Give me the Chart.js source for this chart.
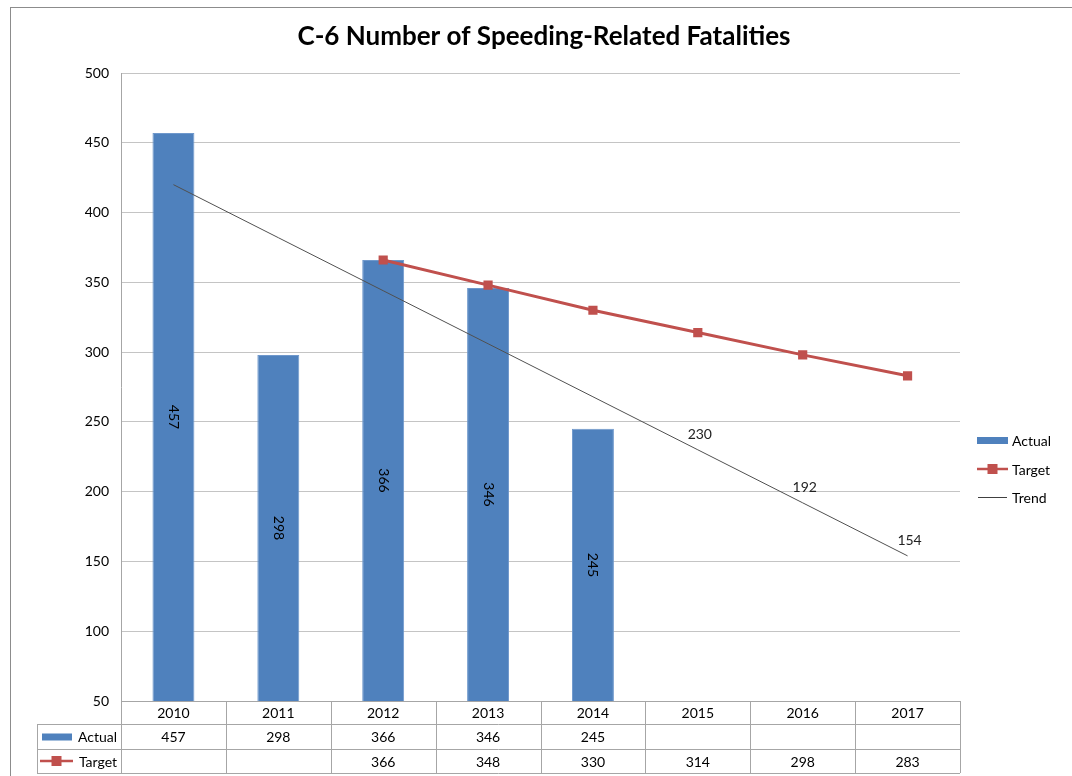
<!DOCTYPE html>
<html>
<head>
<meta charset="utf-8">
<script src="https://cdn.jsdelivr.net/npm/chart.js@4"></script>
<style>
  html, body { margin: 0; padding: 0; background: #fff; }
  #wrap { width: 1072px; height: 776px; }
</style>
</head>
<body>
<div id="wrap"><canvas id="c6Chart" width="1072" height="776"></canvas></div>
<script>
// data
var years = ['2010', '2011', '2012', '2013', '2014', '2015', '2016', '2017'];
var actual = [457, 298, 366, 346, 245, null, null, null];
var target = [null, null, 366, 348, 330, 314, 298, 283];
var trend = [420, 382, 344, 306, 268, 230, 192, 154];
var trendLabelIdx = [5, 6, 7];
var yTicks = [50, 100, 150, 200, 250, 300, 350, 400, 450, 500];

var FONT = 'Lato, "Open Sans", sans-serif';
var BLUE = '#4f81bd';
var RED = '#c0504d';
var GRID = '#c4c4c4';

function fmt(v) { return v == null ? '' : String(v); }

// title, data table, legend, frame, bar + trend labels
var extras = {
  id: 'extras',
  afterDatasetsDraw: function (chart) {
    var ctx = chart.ctx;
    var area = chart.chartArea;

    ctx.save();
    // labels inside the bars, rotated
    var barMeta = chart.getDatasetMeta(0);
    ctx.fillStyle = '#000';
    ctx.font = '14px ' + FONT;
    ctx.textAlign = 'center';
    ctx.textBaseline = 'middle';
    barMeta.data.forEach(function (el, i) {
      if (actual[i] == null) return;
      ctx.save();
      ctx.translate(el.x, (el.y + area.bottom) / 2);
      ctx.rotate(Math.PI / 2);
      ctx.fillText(fmt(actual[i]), 0, 0);
      ctx.restore();
    });

    // trend labels
    var trendMeta = chart.getDatasetMeta(2);
    ctx.fillStyle = '#222';
    trendLabelIdx.forEach(function (i) {
      var p = trendMeta.data[i];
      ctx.fillText(fmt(trend[i]), p.x + 2, p.y - 15);
    });
    ctx.restore();
  },
  afterDraw: function (chart) {
    var ctx = chart.ctx;
    var area = chart.chartArea;
    var xs = chart.scales.x;
    var n = years.length;
    var step = (area.right - area.left) / n;

    ctx.save();
    // outer frame
    ctx.strokeStyle = '#8c8c8c';
    ctx.lineWidth = 1;
    ctx.strokeRect(10.5, 7.5, 1080, 800);

    // title
    ctx.fillStyle = '#000';
    ctx.font = 'bold 26px ' + FONT;
    ctx.textAlign = 'center';
    ctx.textBaseline = 'middle';
    ctx.fillText('C-6 Number of Speeding-Related Fatalities', 544, 37);

    // data table
    var rowTop = area.bottom;
    var rowH = [23, 25, 24];
    var tableLeft = 37;
    ctx.strokeStyle = '#a6a6a6';
    ctx.beginPath();
    var y0 = rowTop, y1 = rowTop + rowH[0], y2 = y1 + rowH[1], y3 = y2 + rowH[2];
    // horizontals
    ctx.moveTo(area.left, y0 + 0.5); ctx.lineTo(area.right, y0 + 0.5);
    ctx.moveTo(tableLeft, y1 + 0.5); ctx.lineTo(area.right, y1 + 0.5);
    ctx.moveTo(tableLeft, y2 + 0.5); ctx.lineTo(area.right, y2 + 0.5);
    ctx.moveTo(tableLeft, y3 + 0.5); ctx.lineTo(area.right, y3 + 0.5);
    // verticals
    ctx.moveTo(tableLeft + 0.5, y1); ctx.lineTo(tableLeft + 0.5, y3);
    for (var k = 0; k <= n; k++) {
      var vx = Math.round(area.left + k * step) + 0.5;
      ctx.moveTo(vx, y0); ctx.lineTo(vx, y3);
    }
    ctx.stroke();

    ctx.font = '14px ' + FONT;
    ctx.fillStyle = '#000';
    ctx.textAlign = 'center';
    years.forEach(function (yr, i) {
      var cx = xs.getPixelForValue(i);
      ctx.fillText(yr, cx, (y0 + y1) / 2 + 1);
      ctx.fillText(fmt(actual[i]), cx, (y1 + y2) / 2 + 1);
      ctx.fillText(fmt(target[i]), cx, (y2 + y3) / 2 + 1);
    });
    // row headers with keys
    ctx.textAlign = 'right';
    ctx.fillText('Actual', area.left - 4, (y1 + y2) / 2 + 1);
    ctx.fillText('Target', area.left - 4, (y2 + y3) / 2 + 1);
    ctx.fillStyle = BLUE;
    ctx.fillRect(42, (y1 + y2) / 2 - 3, 30, 7);
    drawTargetKey(ctx, 40, 73, (y2 + y3) / 2);

    // legend on the right
    ctx.textAlign = 'left';
    ctx.fillStyle = BLUE;
    ctx.fillRect(977, 437, 31, 7);
    drawTargetKey(ctx, 977, 1008, 469);
    ctx.strokeStyle = '#404040';
    ctx.lineWidth = 1;
    ctx.beginPath();
    ctx.moveTo(978, 497.5); ctx.lineTo(1007, 497.5);
    ctx.stroke();
    ctx.fillStyle = '#000';
    ctx.fillText('Actual', 1012, 441);
    ctx.fillText('Target', 1012, 470);
    ctx.fillText('Trend', 1012, 498);
    ctx.restore();
  }
};

function drawTargetKey(ctx, x0, x1, y) {
  ctx.save();
  ctx.strokeStyle = RED;
  ctx.lineWidth = 2.5;
  ctx.beginPath();
  ctx.moveTo(x0, y); ctx.lineTo(x1, y);
  ctx.stroke();
  ctx.fillStyle = RED;
  var cx = (x0 + x1) / 2;
  ctx.fillRect(cx - 5, y - 5, 10, 10);
  ctx.restore();
}

var ctx = document.getElementById('c6Chart').getContext('2d');
var c6Chart = new Chart(ctx, {
  type: 'bar',
  data: {
    labels: years,
    datasets: [
      {
        label: 'Actual',
        data: actual,
        backgroundColor: BLUE,
        borderColor: '#6f98cc',
        borderWidth: 1,
        categoryPercentage: 1,
        barPercentage: 0.4,
        order: 3
      },
      {
        type: 'line',
        label: 'Target',
        data: target,
        borderColor: RED,
        backgroundColor: RED,
        borderWidth: 3,
        pointStyle: 'rect',
        pointRadius: 6.5,
        pointBorderWidth: 0,
        tension: 0,
        order: 1
      },
      {
        type: 'line',
        label: 'Trend',
        data: trend,
        borderColor: '#505050',
        borderWidth: 1,
        pointRadius: 0,
        tension: 0,
        order: 2
      }
    ]
  },
  options: {
    responsive: false,
    animation: false,
    layout: { padding: { left: 0, right: 112, top: 73, bottom: 75 } },
    plugins: {
      legend: { display: false },
      title: { display: false },
      tooltip: { enabled: false }
    },
    scales: {
      x: {
        offset: true,
        ticks: { display: false },
        grid: { display: false },
        border: { display: false },
        afterFit: function (scale) { scale.height = 0; }
      },
      y: {
        min: 50,
        max: 500,
        afterBuildTicks: function (scale) {
          scale.ticks = yTicks.map(function (v) { return { value: v }; });
        },
        afterFit: function (scale) { scale.width = 121; },
        ticks: {
          color: '#000',
          padding: 12,
          font: { family: FONT, size: 14 }
        },
        grid: { color: GRID, lineWidth: 1, drawTicks: false },
        border: { display: true, color: '#a6a6a6' }
      }
    }
  },
  plugins: [extras]
});
</script>
</body>
</html>
